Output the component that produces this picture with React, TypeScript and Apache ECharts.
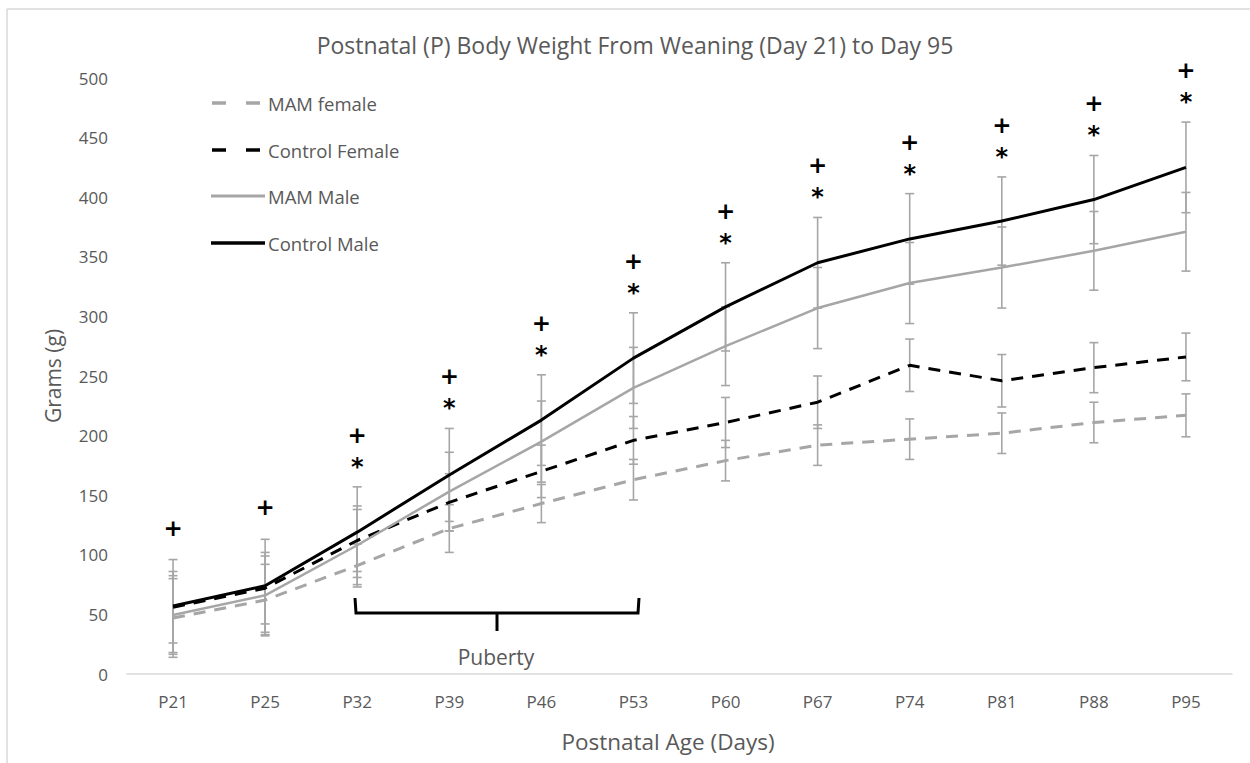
import React, { useEffect, useRef } from "react";
import * as echarts from "echarts";

const categories = ["P21", "P25", "P32", "P39", "P46", "P53", "P60", "P67", "P74", "P81", "P88", "P95"];
const yTicks = [0, 50, 100, 150, 200, 250, 300, 350, 400, 450, 500];

const mamFemale = [47, 62, 91, 122, 143, 163, 179, 192, 197, 202, 211, 217];
const mamFemaleErr = [33, 30, 18, 20, 16, 17, 17, 17, 17, 17, 17, 18];
const controlFemale = [56, 72, 112, 144, 170, 196, 211, 228, 259, 246, 257, 266];
const controlFemaleErr = [30, 30, 26, 24, 22, 20, 21, 22, 22, 22, 21, 20];
const mamMale = [49.5, 66, 108, 153, 195, 240, 275, 307, 328, 341, 355, 371];
const mamMaleErr = [33, 33, 33, 33, 34, 34, 33, 34, 34, 34, 33, 33];
const controlMale = [57, 74, 119, 167, 213, 265, 308, 345, 365, 380, 398, 425];
const controlMaleErr = [39, 39, 38, 39, 38, 38, 37, 38, 38, 37, 37, 38];

const plusFlags = [1, 1, 1, 1, 1, 1, 1, 1, 1, 1, 1, 1];
const starFlags = [0, 0, 1, 1, 1, 1, 1, 1, 1, 1, 1, 1];

const seriesNames = ["MAM female", "Control Female", "MAM Male", "Control Male"];

const FONT = "'Open Sans', 'Noto Sans', sans-serif";
const TXT = "#595959";
const ERR = "#a6a6a6";
const GRAY = "#a6a6a6";

const styles = [
  { color: GRAY, width: 3, dash: [12, 9] as any },
  { color: "#000000", width: 3, dash: [12, 9] as any },
  { color: GRAY, width: 2.5, dash: "solid" as any },
  { color: "#000000", width: 3, dash: "solid" as any },
];

function errSeries(name: string, means: number[], errs: number[], z: number) {
  return {
    type: "custom",
    name,
    silent: true,
    z,
    encode: { x: 0, y: [1, 2] },
    data: means.map((m, i) => [i, m - errs[i], m + errs[i]]),
    renderItem: (params: any, api: any) => {
      const lo = api.coord([api.value(0), api.value(1)]);
      const hi = api.coord([api.value(0), api.value(2)]);
      const w = 4.5;
      const st = { stroke: ERR, lineWidth: 1.6 };
      return {
        type: "group",
        children: [
          { type: "line", shape: { x1: lo[0], y1: lo[1], x2: hi[0], y2: hi[1] }, style: st },
          { type: "line", shape: { x1: lo[0] - w, y1: lo[1], x2: lo[0] + w, y2: lo[1] }, style: st },
          { type: "line", shape: { x1: hi[0] - w, y1: hi[1], x2: hi[0] + w, y2: hi[1] }, style: st },
        ],
      };
    },
  };
}

export default function App() {
  const ref = useRef<HTMLDivElement>(null);
  useEffect(() => {
    document.body.style.margin = "0";
    const chart = echarts.init(ref.current!, null, { renderer: "svg" });
    const lineBase = { type: "line", symbol: "none", z: 5, silent: true };
    const data = [mamFemale, controlFemale, mamMale, controlMale];

    const legendGraphics: any[] = [];
    const legendYs = [103, 150, 196, 243];
    seriesNames.forEach((n, k) => {
      const s = styles[k];
      const y = legendYs[k];
      if (s.dash === "solid") {
        legendGraphics.push({
          type: "line",
          shape: { x1: 211, y1: y, x2: 265, y2: y },
          style: { stroke: s.color, lineWidth: k === 3 ? 3.5 : 2.8 },
        });
      } else {
        legendGraphics.push({
          type: "line",
          shape: { x1: 212, y1: y, x2: 226, y2: y },
          style: { stroke: s.color, lineWidth: 3.5 },
        });
        legendGraphics.push({
          type: "line",
          shape: { x1: 246, y1: y, x2: 260, y2: y },
          style: { stroke: s.color, lineWidth: 3.5 },
        });
      }
      legendGraphics.push({
        type: "text",
        x: 268,
        y,
        style: { text: n, font: `18.5px ${FONT}`, fill: TXT, align: "left", verticalAlign: "middle" },
      });
    });

    chart.setOption({
      animation: false,
      backgroundColor: "#ffffff",
      title: {
        text: "Postnatal (P) Body Weight From Weaning (Day 21) to Day 95",
        left: 630,
        textAlign: "center",
        top: 28,
        textStyle: { fontFamily: FONT, fontSize: 23, fontWeight: "normal", color: TXT },
      },
      grid: { left: 127, right: 18, top: 78, bottom: 89 },
      xAxis: {
        type: "category",
        data: categories,
        boundaryGap: true,
        axisLine: { lineStyle: { color: "#d9d9d9", width: 1.5 } },
        axisTick: { show: false },
        axisLabel: { fontFamily: FONT, fontSize: 17, color: TXT, margin: 19 },
      },
      yAxis: {
        type: "value",
        min: yTicks[0],
        max: yTicks[yTicks.length - 1],
        interval: yTicks[1] - yTicks[0],
        splitLine: { show: false },
        axisLine: { show: false },
        axisTick: { show: false },
        axisLabel: { fontFamily: FONT, fontSize: 17, color: TXT, margin: 19 },
        name: "Grams (g)",
        nameLocation: "middle",
        nameGap: 64,
        nameTextStyle: { fontFamily: FONT, fontSize: 21, color: TXT },
      },
      series: [
        errSeries("e1", mamFemale, mamFemaleErr, 1),
        errSeries("e2", controlFemale, controlFemaleErr, 1),
        errSeries("e3", mamMale, mamMaleErr, 1),
        errSeries("e4", controlMale, controlMaleErr, 1),
        ...seriesNames.map((n, k) => ({
          ...lineBase,
          name: n,
          data: data[k],
          lineStyle: { color: styles[k].color, width: styles[k].width, type: styles[k].dash },
          itemStyle: { color: styles[k].color },
        })),
        {
          type: "custom",
          name: "sig",
          silent: true,
          z: 6,
          encode: { x: 0, y: 1 },
          data: controlMale.map((m, i) => [i, m + controlMaleErr[i], starFlags[i], plusFlags[i]]),
          renderItem: (params: any, api: any) => {
            const p = api.coord([api.value(0), api.value(1)]);
            const hasStar = api.value(2) === 1;
            const hasPlus = api.value(3) === 1;
            const children: any[] = [];
            if (hasStar) {
              children.push({
                type: "text",
                x: p[0],
                y: p[1] - 20,
                style: { text: "*", fill: "#000", font: "bold 24px 'DejaVu Sans'", align: "center", verticalAlign: "middle" },
              });
            }
            if (hasPlus) {
              children.push({
                type: "text",
                x: p[0],
                y: hasStar ? p[1] - 52 : p[1] - 32,
                style: { text: "+", fill: "#000", font: "bold 23px 'DejaVu Sans'", align: "center", verticalAlign: "middle" },
              });
            }
            return { type: "group", children };
          },
        },
      ],
      graphic: [
        { type: "line", shape: { x1: 7, y1: 9, x2: 1250, y2: 9 }, style: { stroke: "#d9d9d9", lineWidth: 1.5 } },
        { type: "line", shape: { x1: 7, y1: 9, x2: 7, y2: 763 }, style: { stroke: "#d9d9d9", lineWidth: 1.5 } },
        ...legendGraphics,
        {
          type: "polyline",
          shape: { points: [[355, 598], [356, 613], [638, 613], [639, 598]] },
          style: { stroke: "#000", lineWidth: 3, fill: null },
        },
        {
          type: "line",
          shape: { x1: 497, y1: 613, x2: 497, y2: 631 },
          style: { stroke: "#000", lineWidth: 3 },
        },
        {
          type: "text",
          x: 496,
          y: 657,
          style: { text: "Puberty", font: `21px ${FONT}`, fill: TXT, align: "center", verticalAlign: "middle" },
        },
        {
          type: "text",
          x: 668,
          y: 741,
          style: { text: "Postnatal Age (Days)", font: `22.5px ${FONT}`, fill: TXT, align: "center", verticalAlign: "middle" },
        },
      ],
    });
    return () => chart.dispose();
  }, []);
  return <div ref={ref} style={{ width: 1250, height: 763 }} />;
}
